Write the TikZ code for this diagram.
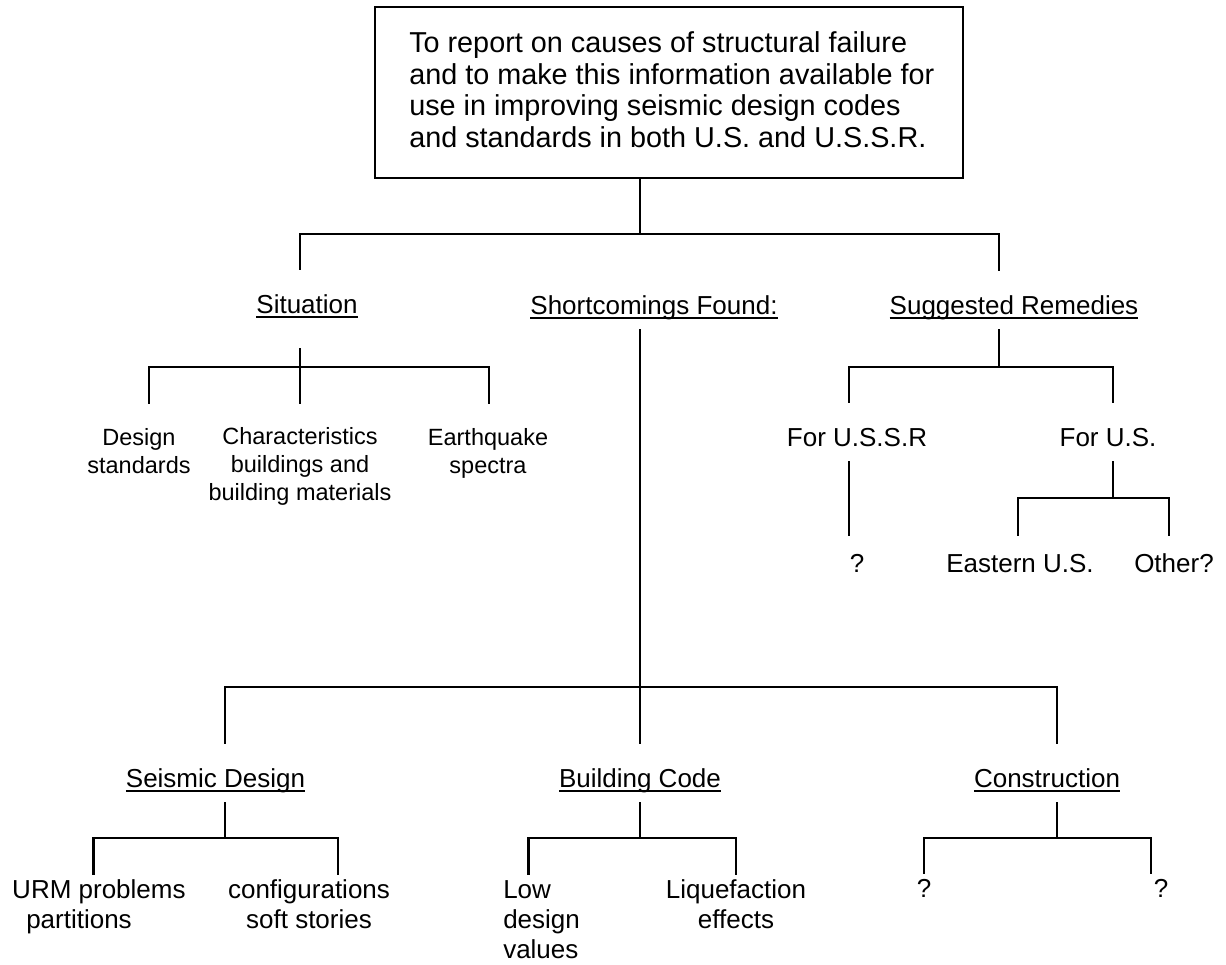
\documentclass[tikz,border=0pt]{standalone}
\usepackage{fontspec}
\setmainfont{Liberation Sans}
\newcommand{\undl}[1]{\setbox0\hbox{#1}\rlap{\vrule width \wd0 height -1.5pt depth 2.5pt}\box0}

\begin{document}
\begin{tikzpicture}[x=0.5pt,y=-0.5pt,line width=1.25pt,
    head/.style={font=\fontsize{13}{15}\selectfont,anchor=base,inner xsep=0pt,
        inner ysep=3.5pt,text height=17.5pt,text depth=3.5pt},
    leaf/.style={font=\fontsize{13}{15}\selectfont,anchor=base,inner xsep=0pt,
        inner ysep=3pt,text height=8pt,align=center},
    small/.style={font=\fontsize{11.75}{13.85}\selectfont,anchor=base,inner xsep=0pt,
        inner ysep=3pt,text height=31pt,align=center}]
    \useasboundingbox (0,0) rectangle (1226,964);

    \node[draw,minimum width=294pt,minimum height=85.5pt] (goal) at (669,92.5) {};
    \node[anchor=base west,inner sep=0pt,align=left,font=\fontsize{14.4}{15.75}\selectfont] (goaltext) at (408,147)
        {To report on causes of structural failure\\
         and to make this information available for\\
         use in improving seismic design codes\\
         and standards in both U.S. and U.S.S.R.};

    \node[head] (sit) at (307,313) {\undl{Situation}};
    \node[head] (sf) at (654,314) {\undl{Shortcomings Found:}};
    \node[head] (rem) at (1014,314) {\undl{Suggested Remedies}};

    \node[small] (ds) at (139,473) {Design\\standards};
    \node[small,text height=44.5pt] (chb) at (300,500) {Characteristics\\buildings and\\building materials};
    \node[small] (eq) at (488,473) {Earthquake\\spectra};

    \node[head] (ussr) at (857,446) {For U.S.S.R};
    \node[head] (us) at (1108,446) {For U.S.};
    \node[leaf,text height=14.5pt] (q1) at (857,572) {?};
    \node[leaf,text height=14.5pt] (east) at (1020,572) {Eastern U.S.};
    \node[leaf,text height=14.5pt] (other) at (1174,572) {Other?};

    \node[head] (sd) at (215.5,787) {\undl{Seismic Design}};
    \node[head] (bc) at (640,787) {\undl{Building Code}};
    \node[head] (con) at (1047,787) {\undl{Construction}};

    \node[leaf,anchor=base west,align=left,text height=23pt] (urm) at (11,928) {URM problems\\\hspace*{7pt}partitions};
    \node[leaf,text height=23pt] (cfg) at (309,928) {configurations\\soft stories};
    \node[leaf,anchor=base west,align=left,text height=38pt] (low) at (502,958) {Low\\design\\values};
    \node[leaf,text height=23pt] (liq) at (736,928) {Liquefaction\\effects};
    \node[leaf] (q2) at (924,897) {?};
    \node[leaf] (q3) at (1161,897) {?};

    \coordinate (j0) at (640,234);
    \coordinate (j1) at (300,367);
    \coordinate (j2) at (999,367);
    \coordinate (j3) at (1113,498);
    \coordinate (j4) at (640,687);
    \coordinate (j5) at (225,838);
    \coordinate (j6) at (640,838);
    \coordinate (j7) at (1057,838);

    \draw (goal.south -| j0) -- (j0);
    \draw ([xshift=-3.5pt]sit.north) |- (j0) -| ([xshift=-7.5pt]rem.north);

    \draw[shorten <=10pt] (sit.south -| j1) -- (chb.north);
    \draw ([xshift=5pt]ds.north) |- (j1) -| ([xshift=0.5pt]eq.north);

    \draw (rem.south -| j2) -- (j2);
    \draw ([xshift=-4pt]ussr.north) |- (j2) -| ([xshift=2.5pt]us.north);
    \draw ([xshift=-4pt]ussr.south) -- ([xshift=-4pt]q1.north);
    \draw (us.south -| j3) -- (j3);
    \draw ([xshift=-1pt]east.north) |- (j3) -| ([xshift=-2.5pt]other.north);

    \draw (sf.south -| j4) -- (j4) -- (bc.north);
    \draw ([xshift=4.75pt]sd.north) |- (j4) -| ([xshift=5pt]con.north);
    \draw (sd.south -| j5) -- (j5);
    \draw ([xshift=-2.75pt]urm.north) |- (j5) -| ([xshift=14.5pt]cfg.north);
    \draw (bc.south) -- (j6);
    \draw ([xshift=-6.5pt]low.north) |- (j6) -| (liq.north);
    \draw (con.south -| j7) -- (j7);
    \draw (q2.north) |- (j7) -| ([xshift=-5pt]q3.north);
\end{tikzpicture}
\end{document}
